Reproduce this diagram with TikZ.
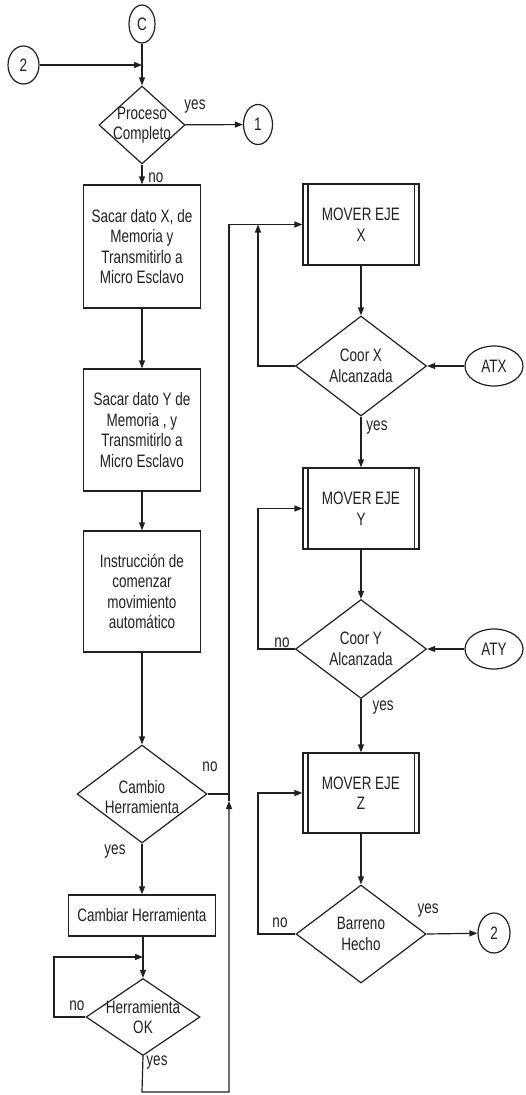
\documentclass[tikz,border=0pt]{standalone}
\usepackage{fontspec}
\usetikzlibrary{shapes.geometric,arrows.meta}
\newfontfamily\lab[FakeStretch=0.75]{Liberation Sans}
\definecolor{ink}{HTML}{202020}
\tikzset{
  ln/.style={draw=ink,line width=1.2pt},
  txt/.style={font={\lab\fontsize{18}{20.5}\selectfont},text=ink,align=center},
  arr/.style={ln,-{Triangle[length=8pt,width=6pt]}},
  box/.style={txt,ln,rectangle,inner sep=0pt},
  proc/.style={box,minimum width=116pt,minimum height=81pt},
  dia/.style={ln,diamond,inner sep=0pt},
  term/.style={txt,ln,ellipse,inner sep=0pt},
  dlab/.style={txt,inner sep=0pt},
  note/.style={txt,inner sep=0pt}
}
\begin{document}
\begin{tikzpicture}[x=1pt,y=-1pt]
\useasboundingbox (0,0) rectangle (525,1095);

% ---- left column
\node[term,minimum width=26pt,minimum height=38pt] (C) at (142,24) {C};
\node[term,minimum width=31pt,minimum height=38pt] (two) at (23.5,65) {2};
\node[dia,minimum width=86pt,minimum height=78pt,
      label={[dlab]center:Proceso\\Completo}] (pc) at (142,125) {};
\node[term,minimum width=29pt,minimum height=40pt] (one) at (258,124.5) {1};
\node[box,minimum width=117pt,minimum height=123pt] (b1) at (142,246.5)
  {Sacar dato X, de\\Memoria y\\Transmitirlo a\\Micro Esclavo};
\node[box,minimum width=117pt,minimum height=122pt] (b2) at (142,430)
  {Sacar dato Y de\\Memoria , y\\Transmitirlo a\\Micro Esclavo};
\node[box,minimum width=117pt,minimum height=121pt] (b3) at (142,591.5)
  {Instrucción de\\comenzar\\movimiento\\automático};
\node[dia,minimum width=130pt,minimum height=98pt,
      label={[dlab,yshift=-3pt]center:Cambio\\Herramienta}] (ch) at (142,794) {};
\node[box,minimum width=147pt,minimum height=41pt] (cb) at (142,915.5)
  {Cambiar Herramienta};
\node[dia,minimum width=114pt,minimum height=77pt,
      label={[dlab]center:Herramienta\\OK}] (hok) at (143,1017) {};

% ---- right column
\node[proc] (mx) at (361,224.5) {MOVER EJE\\X};
\node[dia,minimum width=131pt,minimum height=100pt,
      label={[dlab]center:Coor X\\Alcanzada}] (cx) at (361,366) {};
\node[term,minimum width=58pt,minimum height=40pt] (atx) at (494,366) {ATX};
\node[proc] (my) at (361,508.5) {MOVER EJE\\Y};
\node[dia,minimum width=131pt,minimum height=99pt,
      label={[dlab]center:Coor Y\\Alcanzada}] (cy) at (361,649) {};
\node[term,minimum width=58pt,minimum height=40pt] (aty) at (494,649) {ATY};
\node[proc,minimum height=80pt] (mz) at (361,793) {MOVER EJE\\Z};
\node[dia,minimum width=130pt,minimum height=98pt,
      label={[dlab]center:Barreno\\Hecho}] (bh) at (361,934) {};
\node[term,minimum width=32pt,minimum height=40pt] (tw) at (494,933) {2};

% inner bars of the predefined-process boxes
\foreach \p in {mx,my,mz}{
  \draw[ln] ([xshift=5.5pt]\p.north west) -- ([xshift=5.5pt]\p.south west);
  \draw[ln] ([xshift=-5.5pt]\p.north east) -- ([xshift=-5.5pt]\p.south east);
}

% routing points
\coordinate (j2) at (two -| C);
\coordinate (lb) at (142,1092);
\coordinate (rb) at (229,1092);
\coordinate (rm) at (229,801);
\coordinate (rt) at (229,224.5);
\coordinate (hl) at (54,1017);
\coordinate (ht) at (54,957);
\coordinate (hj) at (143,957);
\coordinate (xl) at (258,366);
\coordinate (xt) at (258,224.5);
\coordinate (yl) at (258,649);
\coordinate (yt) at (258,508.5);
\coordinate (zl) at (258,934);
\coordinate (zt) at (258,793);

% ---- connectors, left column
\draw[arr] (C) -- (pc);
\draw[arr] (two) -- (j2);
\draw[arr] (pc) -- (one);
\draw[arr] (pc) -- (b1);
\draw[arr] (b1) -- (b2);
\draw[arr] (b2) -- (b3);
\draw[arr] (b3) -- (ch.north);
\draw[arr] (ch.south) -- (cb);
\draw[arr] (cb.south -| hok.north) -- (hok.north);
\draw[arr] (hok.west) -- (hl) -- (ht) -- (hj);
\draw[ln] (ch.east) -- (ch.east -| rm);
\draw[arr] (hok.south) -- (lb) -- (rb) -- (rm);
\draw[arr] (rm) -- (rt) -- (mx.west);

% ---- connectors, right column
\draw[arr] (mx) -- (cx.north);
\draw[arr] (cx.west) -- (xl) -- (xt);
\draw[arr] (atx) -- (cx.east);
\draw[arr] (cx.south) -- (my);
\draw[arr] (my) -- (cy.north);
\draw[arr] (cy.west) -- (yl) -- (yt) -- (my.west);
\draw[arr] (aty) -- (cy.east);
\draw[arr] (cy.south) -- (mz);
\draw[arr] (mz) -- (bh.north);
\draw[arr] (bh.west) -- (zl) -- (zt) -- (mz.west);
\draw[arr] (bh.east) -- (tw);

% ---- branch labels
\node[note] (l1) at (195,107) {yes};
\node[note] (l2) at (156,178) {no};
\node[note] (l3) at (210,767) {no};
\node[note] (l4) at (115,852) {yes};
\node[note] (l5) at (77,1006) {no};
\node[note] (l6) at (157,1063) {yes};
\node[note] (l7) at (377,428) {yes};
\node[note] (l8) at (282,643) {no};
\node[note] (l9) at (383,708) {yes};
\node[note] (l10) at (280,923) {no};
\node[note] (l11) at (428,911) {yes};
\end{tikzpicture}
\end{document}
